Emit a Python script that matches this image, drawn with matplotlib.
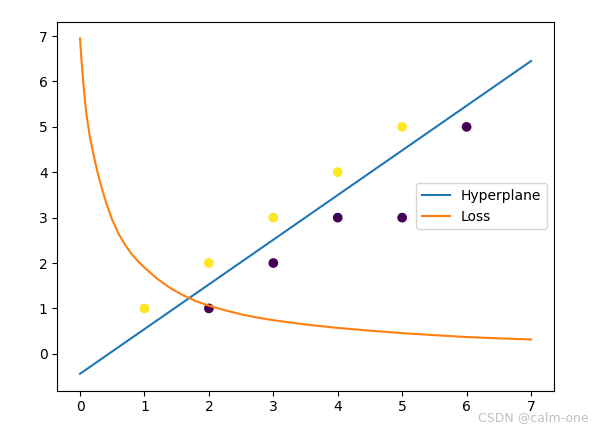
import matplotlib
matplotlib.use("Agg")
import matplotlib.pyplot as plt

# scatter points and their class labels
pts_x = [1, 2, 3, 4, 5, 2, 3, 4, 5, 6]
pts_y = [1, 2, 3, 4, 5, 1, 2, 3, 3, 5]
labels = [1, 1, 1, 1, 1, 0, 0, 0, 0, 0]

# separating line end points
hyper_x = [0, 7]
hyper_y = [-0.44, 6.45]

# loss curve
loss_x = [0, 0.025, 0.05, 0.075, 0.1, 0.15, 0.2, 0.25, 0.3, 0.4, 0.5, 0.6, 0.7,
          0.8, 0.9, 1.0, 1.2, 1.4, 1.6, 1.8, 2.0, 2.25, 2.5, 2.75, 3.0, 3.5,
          4.0, 4.5, 5.0, 5.5, 6.0, 6.5, 7.0]
loss_y = [6.95, 6.42, 5.98, 5.60, 5.27, 4.80, 4.45, 4.13, 3.84, 3.35, 2.95, 2.64, 2.40,
          2.20, 2.04, 1.90, 1.65, 1.45, 1.29, 1.16, 1.06, 0.96, 0.87, 0.80, 0.74, 0.645,
          0.57, 0.51, 0.455, 0.41, 0.37, 0.34, 0.315]

fig = plt.figure(figsize=(6.02, 4.32), dpi=100)
ax = fig.add_axes([0.0955, 0.096, 0.824, 0.854])

ax.scatter(pts_x, pts_y, c=labels, cmap="viridis")
ax.plot(hyper_x, hyper_y, label="Hyperplane")
ax.plot(loss_x, loss_y, label="Loss")
ax.legend(loc="center right")

fig.text(0.977, 0.033, "CSDN @calm-one", ha="right", va="center",
         color="#c0c0c0", fontsize=9)

fig.savefig("out.png", dpi=100)
